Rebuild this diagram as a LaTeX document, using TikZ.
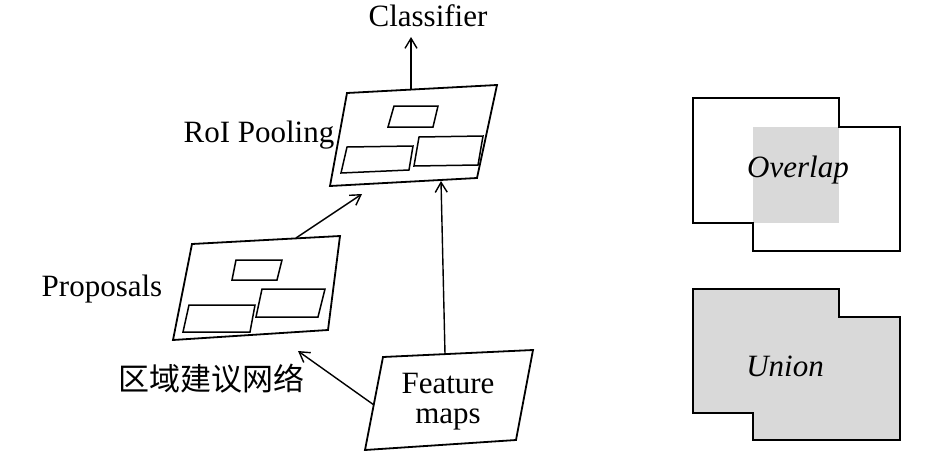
\documentclass[tikz,border=0pt]{standalone}
\usepackage{fontspec}
\setmainfont{Liberation Serif}
\newfontfamily\cjk{Noto Sans CJK SC}
\usetikzlibrary{arrows.meta}
\definecolor{boxgray}{HTML}{D9D9D9}
\tikzset{
  frame/.style={draw=black, line width=1.8pt, line join=miter},
  inner/.style={draw=black, line width=1.5pt},
  conn/.style={draw=black, line width=1.4pt, -{Straight Barb[length=10pt,width=12pt,line width=1.4pt]}},
  lbl/.style={font=\fontsize{31}{35}\selectfont, inner sep=0pt, anchor=base},
  ilbl/.style={font=\fontsize{31}{35}\selectfont\itshape, inner sep=0pt, anchor=base},
}
\begin{document}
\begin{tikzpicture}[x=1pt,y=-1pt]
\useasboundingbox (0,0) rectangle (945,453);

% RoI pooling parallelogram
\draw[frame] (347,93) -- (497,85) -- (477,178) -- (330,186) -- cycle;
\draw[inner] (394,106) -- (438,106) -- (433,127) -- (388,127) -- cycle;
\draw[inner] (347,147) -- (413,146) -- (409,170) -- (341,173) -- cycle;
\draw[inner] (419,137) -- (483,136) -- (478,165) -- (414,166) -- cycle;
\coordinate (roitop) at (411,89);
\coordinate (roibot) at (441,181);
\coordinate (roileft) at (362,194);

% Proposals parallelogram
\draw[frame] (192,244) -- (340,236) -- (328,330) -- (173,340) -- cycle;
\draw[inner] (236,260) -- (282,260) -- (277,280) -- (232,280) -- cycle;
\draw[inner] (189,305) -- (255,305) -- (250,332) -- (183,332) -- cycle;
\draw[inner] (262,289) -- (325,289) -- (318,317) -- (256,317) -- cycle;
\coordinate (proptop) at (296,238);

% Feature maps parallelogram
\draw[frame] (383,357) -- (533,350) -- (516,440) -- (365,450) -- cycle;
\coordinate (feattop) at (445,354);
\coordinate (featleft) at (374,405);

% labels
\node[lbl] (cls) at (428,26) {Classifier};
\coordinate (clsb) at (411,37);
\node[lbl] (roi) at (259,142) {RoI Pooling};
\node[lbl] (prop) at (102,296) {Proposals};
\node[font=\cjk\fontsize{31}{35}\selectfont, inner sep=0pt] (rpn) at (211,379) {区域建议网络};
\coordinate (rpnend) at (298,351);
\node[lbl] (feat1) at (448,393) {Feature};
\node[lbl] (feat2) at (448,423) {maps};

% connectors
\draw[conn] (roitop) -- (clsb);
\draw[conn] (proptop) -- (roileft);
\draw[conn] (feattop) -- (roibot);
\draw[conn] (featleft) -- (rpnend);

% Overlap diagram
\fill[boxgray] (753,127) rectangle (839,223);
\draw[frame] (693,98) -- (839,98) -- (839,127) -- (900,127) -- (900,251) -- (753,251) -- (753,223) -- (693,223) -- cycle;
\node[ilbl] (ov) at (798,177) {Overlap};

% Union diagram
\draw[frame, fill=boxgray] (693,289) -- (839,289) -- (839,317) -- (900,317) -- (900,440) -- (753,440) -- (753,413) -- (693,413) -- cycle;
\node[ilbl] (un) at (785,376) {Union};
\end{tikzpicture}
\end{document}
